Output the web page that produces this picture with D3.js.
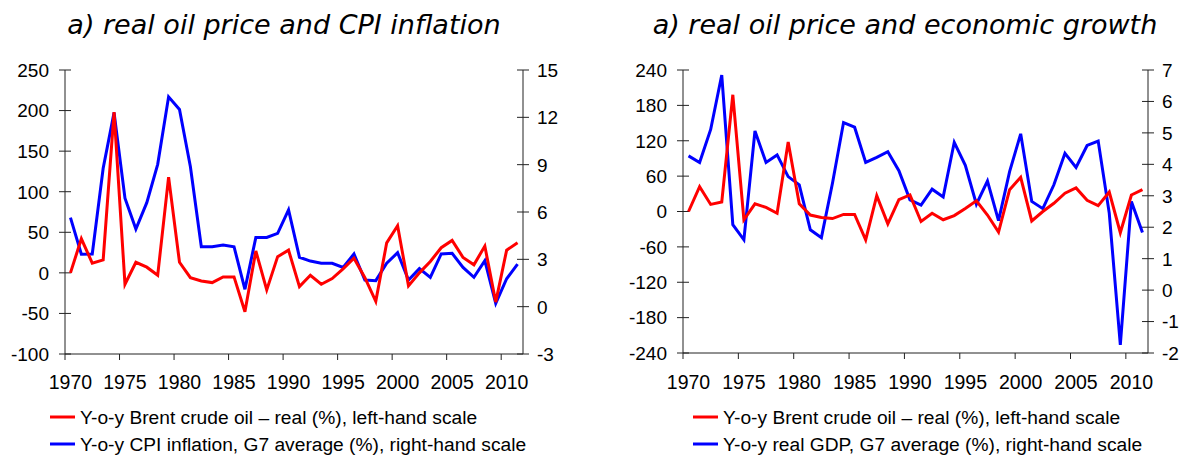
<!DOCTYPE html>
<html><head><meta charset="utf-8">
<script src="https://cdn.jsdelivr.net/npm/d3@7"></script>
<style>
body{margin:0;background:#fff;}
svg{display:block;}
text{font-family:"Liberation Sans",Arial,sans-serif;fill:#000;}
.title{font-family:"DejaVu Sans",Verdana,sans-serif;font-style:italic;}
</style></head><body>
<svg id="c" width="1181" height="456"></svg>
<script>
// ---- data ----
const years = d3.range(1970, 2012);
const oilReal = [0,42,12,16,198,-14,13,7,-3,118,13,-6,-10,-12,-5,-5,-48,27,-21,20,28,-17,-3,-14,-7,5,18,-6,-35,37,58,-16,0,14,31,40,19,10,33,-36,28,37];
const cpiG7 = [5.64,3.32,3.34,8.77,12.3,6.87,4.92,6.59,9.02,13.3,12.5,8.87,3.8,3.8,3.91,3.8,1.1,4.39,4.39,4.65,6.13,3.13,2.89,2.75,2.75,2.49,3.34,1.69,1.65,2.75,3.42,1.69,2.41,1.86,3.34,3.38,2.49,1.86,2.92,0.21,1.77,2.7];
const gdpG7 = [4.27,4.06,5.11,6.84,2.08,1.6,5.06,4.06,4.3,3.61,3.35,1.92,1.67,3.4,5.33,5.18,4.06,4.22,4.4,3.8,2.87,2.7,3.21,2.96,4.7,3.97,2.73,3.47,2.21,3.77,4.97,2.82,2.59,3.35,4.35,3.9,4.6,4.74,2.45,-1.74,2.82,1.83];
const xTickYears = [1970,1975,1980,1985,1990,1995,2000,2005,2010];
const leftTicksA = [250,200,150,100,50,0,-50,-100];
const rightTicksA = [15,12,9,6,3,0,-3];
const leftTicksB = [240,180,120,60,0,-60,-120,-180,-240];
const rightTicksB = [7,6,5,4,3,2,1,0,-1,-2];
const titles = ["a) real oil price and CPI inflation","a) real oil price and economic growth"];
const legendA = ["Y-o-y Brent crude oil \u2013 real (%), left-hand scale","Y-o-y CPI inflation, G7 average (%), right-hand scale"];
const legendB = ["Y-o-y Brent crude oil \u2013 real (%), left-hand scale","Y-o-y real GDP, G7 average (%), right-hand scale"];

const svg = d3.select("#c");

function chart(cfg){
  const g = svg.append("g");
  const x = d3.scaleBand().domain(years).range([cfg.x0, cfg.x1]).padding(0);
  const bw = x.bandwidth();
  const yL = d3.scaleLinear().domain(cfg.lDom).range([cfg.yB, cfg.yT]);
  const yR = d3.scaleLinear().domain(cfg.rDom).range([cfg.yB, cfg.yT]);
  const axisColor = "#222";

  // title
  g.append("text").attr("class","title").attr("x",cfg.titleX).attr("y",34)
    .attr("text-anchor","middle").style("font-size","27px").text(cfg.title);

  // left axis
  g.append("line").attr("x1",cfg.x0).attr("x2",cfg.x0).attr("y1",cfg.yT).attr("y2",cfg.yB).attr("stroke",axisColor);
  cfg.lTicks.forEach(t=>{
    g.append("line").attr("x1",cfg.x0-6).attr("x2",cfg.x0+6).attr("y1",yL(t)).attr("y2",yL(t)).attr("stroke",axisColor);
    g.append("text").attr("x",cfg.x0-16).attr("y",yL(t)).attr("dy","0.36em").attr("text-anchor","end")
      .style("font-size","19px").text(t);
  });
  // right axis
  g.append("line").attr("x1",cfg.x1).attr("x2",cfg.x1).attr("y1",cfg.yT).attr("y2",cfg.yB).attr("stroke",axisColor);
  cfg.rTicks.forEach(t=>{
    g.append("line").attr("x1",cfg.x1-6).attr("x2",cfg.x1+6).attr("y1",yR(t)).attr("y2",yR(t)).attr("stroke",axisColor);
    g.append("text").attr("x",cfg.x1+14).attr("y",yR(t)).attr("dy","0.36em").attr("text-anchor","start")
      .style("font-size","19px").text(t);
  });
  // x axis
  g.append("line").attr("x1",cfg.x0).attr("x2",cfg.x1).attr("y1",cfg.yB).attr("y2",cfg.yB).attr("stroke",axisColor);
  xTickYears.forEach(yr=>{
    g.append("line").attr("x1",x(yr)).attr("x2",x(yr)).attr("y1",cfg.yB).attr("y2",cfg.yB+6).attr("stroke",axisColor);
    g.append("text").attr("x",x(yr)+bw/2).attr("y",389).attr("text-anchor","middle")
      .style("font-size","19.5px").text(yr);
  });

  const lineL = d3.line().x((d,i)=>x(years[i])+bw/2).y(d=>yL(d));
  const lineR = d3.line().x((d,i)=>x(years[i])+bw/2).y(d=>yR(d));
  g.append("path").datum(cfg.rData).attr("d",lineR).attr("fill","none").attr("stroke","#0000ff").attr("stroke-width",3).attr("stroke-linejoin","miter");
  g.append("path").datum(oilReal).attr("d",lineL).attr("fill","none").attr("stroke","#ff0000").attr("stroke-width",3).attr("stroke-linejoin","miter");

  // legend
  const cols = ["#ff0000","#0000ff"];
  cfg.legend.forEach((txt,i)=>{
    const yy = 417 + i*27;
    g.append("line").attr("x1",cfg.legX).attr("x2",cfg.legX+25).attr("y1",yy).attr("y2",yy).attr("stroke",cols[i]).attr("stroke-width",3);
    g.append("text").attr("x",cfg.legX+30).attr("y",yy).attr("dy","0.35em").style("font-size","19.2px").text(txt);
  });
}

chart({x0:65,x1:523,yT:70,yB:354,lDom:[-100,250],rDom:[-3,15],lTicks:leftTicksA,rTicks:rightTicksA,
  rData:cpiG7,title:titles[0],titleX:284,legend:legendA,legX:50});
chart({x0:683,x1:1148,yT:70,yB:353,lDom:[-240,240],rDom:[-2,7],lTicks:leftTicksB,rTicks:rightTicksB,
  rData:gdpG7,title:titles[1],titleX:905,legend:legendB,legX:693});
</script>
</body></html>
